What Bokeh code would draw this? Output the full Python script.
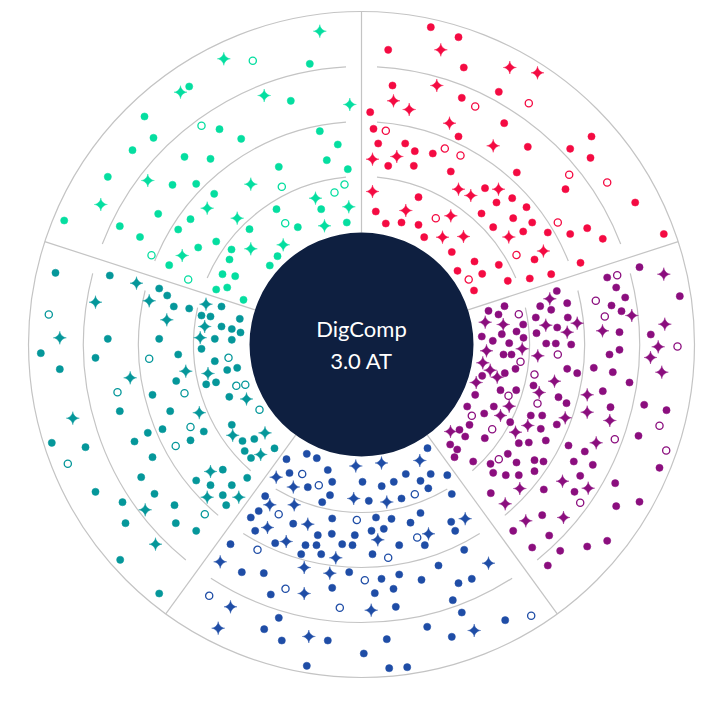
import numpy as np
from bokeh.plotting import figure
from bokeh.models import Range1d
from bokeh.core.properties import value
from bokeh.embed import file_html
from bokeh.resources import INLINE

# ---------------- data ----------------
SECTOR_NAMES = ["green", "red", "purple", "blue", "teal"]
SECTOR_LO = [90, 18, -54, -126, 162]      # degrees, anticlockwise start
SECTOR_HI = [162, 90, 18, -54, 234]       # degrees, anticlockwise end
RING_RADII = [112, 168, 223, 278, 333]
CENTER_LABELS = ["DigComp", "3.0 AT"]

green_dot_x = [-172.3, -217, -142, -120.3, -208, -229, -177, -151, -253.7, -189, -165.3, -147.3, -203.3, -171,
               -297.3, -241.7, -183.3, -221.5, -51.7, -70.7, -41.7, -23.7, -34.7, -82.7, -13.7, -85, -40.3, -63.7,
               -14.7, -112, -163.3, -145.3, -130, -132, -192.3, -139, -126.3, -145.3, -134.3, -118, -84, -91.7]
green_dot_y = [258, 228, 215.3, 205.7, 206.7, 194.3, 187.7, 185.7, 167.7, 159.7, 160.7, 150.7, 130.7, 125.3,
               124, 118.3, 115, 107.5, 280.7, 243.7, 213.3, 200, 184.3, 177.7, 175.3, 135.3, 135.3, 117.3,
               122, 115.3, 97, 103, 95, 85, 79.3, 70.3, 68.3, 55, 57, 44.7, 88.3, 79]
green_star_x = [-137.7, -181, -213.7, -260.7, -154.3, -124.3, -41.7, -97.3, -11.7, -110.7, -46, -12.7, -37,
                -179.3, -110.7, -78.3]
green_star_y = [285.7, 252.3, 164, 140, 136.3, 126.3, 313.3, 249, 240, 160.3, 146.3, 137.7, 118.7, 89, 95.7, 99.7]
green_open_x = [-160, -108.7, -79.7, -17, -27, -76.3, -210, -173.3]
green_open_y = [218.7, 283.7, 157.7, 160, 152, 121.3, 89.3, 65]

red_dot_x = [69.3, 97, 26.7, 102.3, 31, 100.3, 8.7, 12, 97, 16.7, 43.7, 53.3, 71.3, 26.7, 52.3, 89.3, 123.5, 57,
             14.3, 120, 24.3, 40, 57, 62.7, 90.3, 113, 96, 112.5, 120.7, 137.3, 146.3, 168.3, 189.7, 173, 137.3,
             142.7, 166.3, 230, 208.7, 229, 155.3, 204, 135, 150.7, 165, 273.7, 151.7, 170.7, 131.7, 161.7, 186.3,
             208.7, 225.7, 302.3, 241.3, 219]
red_dot_y = [317.3, 307.3, 294.7, 277, 259, 246.7, 232.3, 215.7, 208, 201, 201, 193.3, 191, 178.7, 178.7, 173,
             156.3, 147.3, 133, 131, 121, 122, 119.7, 107.3, 92.5, 83, 73.7, 54, 70.7, 79.7, 63.7, 66, 70.3, 85,
             252.7, 221.3, 197.7, 208, 195.7, 186.7, 172, 155.3, 142, 146.3, 137.3, 142, 126.3, 122, 117.3, 113,
             112, 110.5, 116.3, 110.5, 105.7, 81.7]
red_star_x = [79.3, 75.3, 32, 47.7, 88, 11, 35.3, 11, 97, 109.3, 44.3, 89.3, 81, 102, 181.9, 148.3, 176, 131.7,
              137, 147.3]
red_star_y = [294.7, 259, 243.7, 235, 221.3, 185.3, 188, 153, 155.3, 149, 134, 128.7, 107.3, 108, 93.5, 277,
              271.7, 198.7, 155.3, 107.5]
red_open_x = [113.7, 24.3, 83.3, 99, 74.3, 107.2, 155, 167.3, 207.7, 245.7, 196.3]
red_open_y = [238, 213.7, 196, 189, 126.3, 65, 89.5, 241.3, 169.7, 162, 122]

purple_dot_x = [195.3, 205.7, 178.7, 189.7, 143, 127, 137, 174.3, 206.3, 161.7, 195.7, 120.3, 140.3, 155, 175,
                131.3, 162, 147.7, 184.7, 194.3, 209.7, 142, 150, 154, 205.7, 215.7, 143.3, 120.7, 172, 113.7,
                139, 154.7, 197, 105.7, 132.3, 205, 122.7, 169.3, 180.7, 108, 148.7, 179.3, 195.3, 98, 103.7,
                123.3, 88.7, 95.7, 157.3, 167.3, 184.3, 207, 93, 146.3, 173, 182, 111.7, 129, 155, 131.7, 144.3,
                157.3, 173, 182.3, 278, 245.7, 254.7, 263.7, 318.3, 250, 260, 258, 289.3, 258, 248, 232.3, 251.3,
                268, 241.3, 282.7, 305, 249, 277, 223.3, 212.3, 231.3, 298, 218.7, 213, 129.3, 253.7, 254.7, 278,
                180.7, 151.7, 187.7, 170.7, 198.7, 225.7, 245.7, 186.3]
purple_dot_y = [53.5, 41.3, 38.3, 34.7, 38.3, 33.7, 30, 27, 27, 20, 17, 8, 10.3, 13, 11.3, 3.7, 6.7, 1.3, 1, 1, 0,
                -10, -10, -24.3, -24.3, -28.7, -28.7, -31.3, -41, -50.3, -45.7, -45.7, -52.7, -62, -62, -58.7,
                -69, -71, -71, -80.3, -77.7, -84.3, -80, -85.3, -92, -93.7, -100, -105, -98.7, -98, -96, -101,
                -112.7, -109.3, -115.7, -117, -117, -119.3, -118, -128.3, -130.7, -130.7, -126.7, -145, 77.3, 67,
                57, 47, 48.3, 39, 33.3, 12.3, 10, -5.3, -10, -23.3, -27.7, -38, -46.7, -60.3, -65.7, -62.7, -91.3,
                -107, -117, -120.3, -123.3, -131.3, -147.3, -148.7, -138.7, -161.7, -157.3, -170.7, -186.3, -191,
                -203, -206.3, -202, -196.3, -221]
purple_star_x = [188.3, 123.7, 141.7, 184.3, 215.7, 205.7, 125, 160.7, 176.3, 121.3, 128.7, 135.7, 114.7, 193,
                 177.7, 147.7, 139, 203.7, 166.3, 89, 154, 201, 158.3, 302.3, 270.3, 303.3, 241, 296.7, 289,
                 300.3, 225.7, 225.7, 248.3, 234.7, 226.7, 143.7, 164.3, 202]
purple_star_y = [45.7, 22.3, 20, 19.3, 21.3, 12.3, -6.3, -4.3, -11.3, -18.3, -25.7, -32.7, -38, -36.7, -48,
                 -61.7, -71, -73.3, -81, -87, -87.7, -136.7, -144, 70.3, 29, 20.3, 13.7, -2.3, -13, -27.7, -50.3,
                 -67.7, -76, -98.3, -143.7, -159.3, -176.3, -173]
purple_open_x = [157.3, 196.3, 159, 173, 147, 176, 110.3, 130.7, 137.3, 255.7, 234.3, 243.3, 316, 298, 253.3,
                 304.7, 218.7]
purple_open_y = [30.3, -10, -17.3, -30, -51.3, -59, -71.3, -84.7, -114.7, 69.3, 43.7, 28, -2, -81.3, -94.7,
                 -106, -158.3]

blue_dot_x = [66, -75, -54.7, -44.7, -33.7, -72, 44.3, 69.2, 85.8, 1, 32.3, 59, -29.3, -53.7, 20.2, 66.8, -31.5,
              90.3, -96.3, 7.3, 40, -39.3, -102.8, 59, -29.3, 14.5, 30, 49, 89.7, -68.3, -110.7, -106.3, -43.7,
              -29.7, -6.7, 10, 22.3, 93.7, -86.3, -56, -45, -19.3, -9, 37.7, 63.3, 102.7, -60.3, -40.3, 11, 77,
              -12.3, -119.7, -97.7, 20, 37.7, 60, 97, 110.3, -29.3, 13.3, 32, -90.7, 91.3, 34.3, 100.3, -82.7,
              -97.3, -79.7, -33.7, 25.3, 65.7, 90.3, 2.3, -54.7, 27.7, 45.7, 143.7, -131]
blue_dot_y = [-103.7, -114.7, -109.3, -113.7, -125.5, -128.5, -129.5, -129.5, -130.7, -137.3, -137.3, -136.3,
              -137.3, -142.7, -141.7, -143.8, -150.7, -149.5, -151.7, -156.3, -154, -157.7, -166.5, -168.5, -174,
              -173, -174.3, -178.2, -177.3, -179.2, -173, -186.3, -190.7, -189.3, -190.7, -186.3, -184.3, -186.3,
              -198.7, -200.7, -200.7, -199.7, -200.7, -200.7, -200.7, -205.3, -209.7, -209.7, -209.7, -221,
              -227.7, -227.7, -228.7, -234.3, -230, -235.3, -238.7, -234.3, -243.3, -248.7, -244.3, -250, -255.7,
              -262.3, -268, -273.3, -284.7, -296, -296, -294.7, -282.3, -292.3, -309, -321.3, -323.7, -322.7,
              -275.7, -199.7]
blue_star_x = [-5.7, 20, 58.3, -85.3, -68.2, -7.8, 25.3, -91.7, -67.3, 103.7, -53.7, -94, 16.3, 67, -75.3, -25.7,
               -57.3, -31.7, -57.3, 9.7, -52.7, 112.7, 127, -141.3, -131, -143.3]
blue_star_y = [-121.5, -118.5, -116, -132.7, -142.5, -154, -157.5, -160.3, -160.3, -174.2, -179.7, -183, -195.3,
               -189.3, -197, -213.3, -223, -228.7, -249, -265.7, -292, -286, -218.7, -217.3, -262.3, -283.7]
blue_open_x = [-59.3, -42.7, 53.3, -82.8, -4.7, 55.7, -104, 26.7, 3.3, -76, -21.7, 169.7, -152.3]
blue_open_y = [-129.5, -140.7, -149.7, -169.7, -175.5, -193, -205.3, -213.3, -235.7, -244.3, -263.3, -271.3,
               -251.3]

teal_dot_x = [-306, -251.7, -202.3, -194.3, -187.7, -172.3, -140, -160, -151, -121.7, -140, -129.7, -121, -253.7,
              -202.3, -146.7, -129.7, -160, -320.7, -266, -183.3, -146.7, -301.7, -134.3, -124.3, -185.3, -155.3,
              -145.5, -209, -132.2, -241.7, -191.3, -129.7, -199, -213.7, -157.7, -227, -171, -309.7, -276, -119,
              -107.2, -87, -116.8, -110.5, -209, -138.7, -114.3, -266, -220.3, -239, -207, -187, -236, -185.7,
              -165.3, -241.3, -202.3, -165.3, -151, -129.7, -138.7, -135.3]
teal_dot_y = [71.7, 69, 56, 49, 38, 36, 38, 29, 28, 25.7, 18, 15.5, 12, 5.7, 5.7, 5.7, 4.7, -4.3, -8.7, -13.3,
              -10, -16.7, -24.7, -25.5, -23.3, -36.5, -39.8, -37.8, -50.3, -52.3, -66.7, -66.7, -80.3, -84.7,
              -88.3, -87, -97, -95.8, -98.3, -102.7, -96.5, -94.5, -103.8, -106.5, -113.5, -112.7, -125.2, -133.3,
              -147.3, -132.7, -157.7, -149.3, -160.7, -178.7, -178.7, -186.3, -215.3, -249, -136, -140.7, -140.7,
              -150.7, -160.7]
teal_star_x = [-225, -266, -212.3, -155.5, -194.7, -156.8, -301.7, -161.3, -175.7, -153.5, -231.3, -115, -162.2,
               -288.7, -128.8, -96.5, -100.8, -151, -216.3, -206, -154.3, -122.7]
teal_star_y = [61.3, 42.3, 43.7, 40.3, 24.7, 18, 6.7, 6.8, -26.7, -29, -33.3, -54.5, -68.2, -73.7, -90.8, -88.4,
               -110, -127, -165.3, -199.7, -152.7, -152.7]
teal_open_x = [-312.7, -212.3, -133, -125.2, -116.2, -244, -177, -102, -171, -185.8, -293.7, -156.7]
teal_open_y = [30, -14.3, -13.3, -41.3, -40.2, -47.7, -48.7, -65.3, -82.5, -101.5, -119.3, -169.7]

# ---------------- style ----------------
SECTOR_COLORS = ["#05DEA0", "#F40B42", "#8B0E7E", "#1F4DA6", "#05979A"]
NAVY = "#0E1F40"
LINE_GRAY = "#C4C4C4"
GAP_PX = 15.5
STAR_R = 6.5
STAR_K = 3.2

W, H = 709, 687
CXP, CYP = 361, 344   # chart centre inside the canvas (pixels)

p = figure(width=W, height=H, output_backend="svg", toolbar_location=None,
           x_range=Range1d(-CXP, W - CXP), y_range=Range1d(CYP - H, CYP),
           min_border=0, min_border_left=0, min_border_right=0,
           min_border_top=0, min_border_bottom=0)
p.axis.visible = False
p.grid.visible = False
p.outline_line_color = None
p.background_fill_color = "white"
p.border_fill_color = "white"

r_in, r_out = RING_RADII[0], RING_RADII[-1]

# outer circle
p.arc(x=[0], y=[0], radius=r_out, start_angle=0, end_angle=2 * np.pi,
      line_color=LINE_GRAY, line_width=1.2)

# sector dividers
bounds = np.radians(SECTOR_LO)
p.segment(x0=r_in * np.cos(bounds), y0=r_in * np.sin(bounds),
          x1=r_out * np.cos(bounds), y1=r_out * np.sin(bounds),
          line_color=LINE_GRAY, line_width=1.2)

# inner ring arcs per sector
ax, ay, ar, a0, a1 = [], [], [], [], []
for lo, hi in zip(SECTOR_LO, SECTOR_HI):
    for r in RING_RADII[1:-1]:
        g = GAP_PX / r
        ax.append(0); ay.append(0); ar.append(r)
        a0.append(np.radians(lo) + g); a1.append(np.radians(hi) - g)
p.arc(x=ax, y=ay, radius=ar, start_angle=a0, end_angle=a1, direction="anticlock",
      line_color=LINE_GRAY, line_width=1.2)

# markers
t = np.linspace(0, 2 * np.pi, 65)
sx = STAR_R * np.sign(np.cos(t)) * np.abs(np.cos(t)) ** STAR_K
sy = STAR_R * np.sign(np.sin(t)) * np.abs(np.sin(t)) ** STAR_K

series = [
    (green_dot_x, green_dot_y, green_open_x, green_open_y, green_star_x, green_star_y),
    (red_dot_x, red_dot_y, red_open_x, red_open_y, red_star_x, red_star_y),
    (purple_dot_x, purple_dot_y, purple_open_x, purple_open_y, purple_star_x, purple_star_y),
    (blue_dot_x, blue_dot_y, blue_open_x, blue_open_y, blue_star_x, blue_star_y),
    (teal_dot_x, teal_dot_y, teal_open_x, teal_open_y, teal_star_x, teal_star_y),
]
for color, (dx, dy, ox, oy, stx, sty) in zip(SECTOR_COLORS, series):
    p.scatter(x=dx, y=dy, marker="circle", size=7.2, fill_color=color, line_color=color, line_width=0.5)
    p.scatter(x=ox, y=oy, marker="circle", size=7.2, fill_color="white", line_color=color, line_width=1.3)
    xs = [list(cx + sx) for cx in stx]
    ys = [list(cy + sy) for cy in sty]
    p.patches(xs=xs, ys=ys, fill_color=color, line_color=color, line_width=0.5)

# centre disc and label
p.circle(x=[0], y=[0], radius=r_in, fill_color=NAVY, line_color=None)
p.text(x=[0, 0], y=[16, -16], text=CENTER_LABELS, text_color="white",
       text_font=value("Lato"), text_font_size="22px", text_align="center",
       text_baseline="alphabetic")

open("out.html", "w").write(file_html(p, INLINE))
